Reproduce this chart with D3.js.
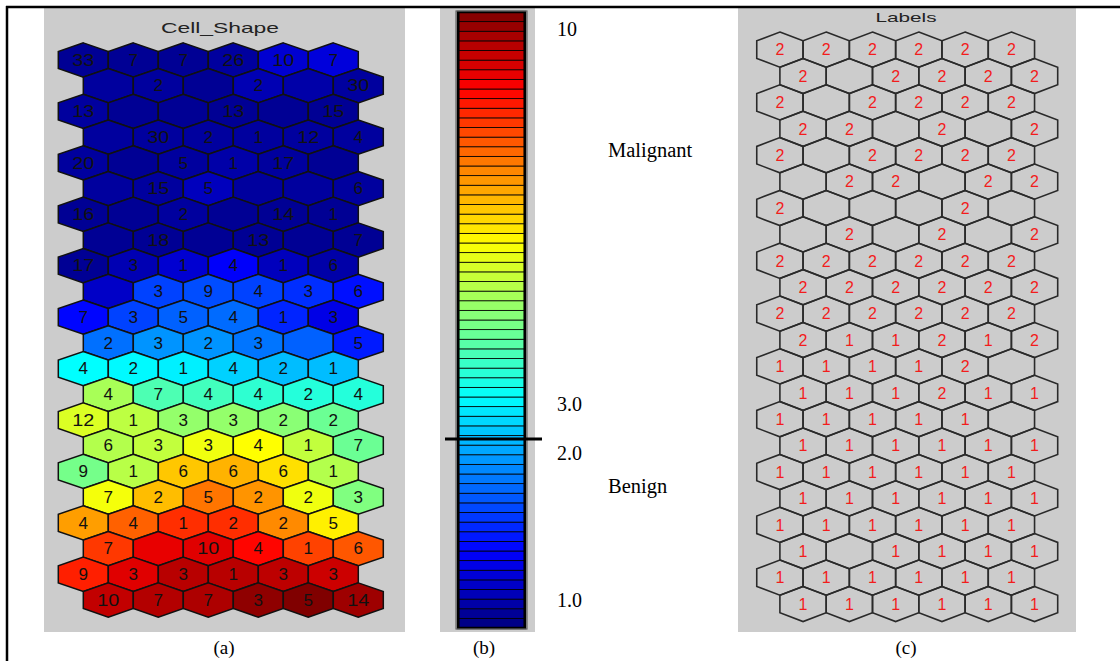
<!DOCTYPE html>
<html><head><meta charset="utf-8">
<script src="https://cdn.jsdelivr.net/npm/d3@7"></script>
<style>html,body{margin:0;padding:0;background:#fff;}svg{display:block;}</style>
</head><body>
<svg id="chart" width="1120" height="661"></svg>
<script>
// ---------- DATA ----------
// Panel (a) "Cell_Shape": colour level of each SOM unit (0..1 position in the jet colormap), 22 rows x 6 columns
const shapeLevels = [
  [0.02,0.02,0.02,0.03,0.08,0.09],
  [0.03,0.03,0.02,0.05,0.04,0.03],
  [0.03,0.02,0.02,0.02,0.02,0.02],
  [0.03,0.03,0.03,0.03,0.03,0.03],
  [0.03,0.02,0.03,0.04,0.03,0.02],
  [0.03,0.03,0.06,0.03,0.03,0.03],
  [0.02,0.02,0.03,0.02,0.02,0.02],
  [0.02,0.02,0.02,0.02,0.02,0.02],
  [0.02,0.05,0.08,0.12,0.06,0.04],
  [0.07,0.19,0.20,0.19,0.17,0.14],
  [0.13,0.19,0.22,0.23,0.16,0.10],
  [0.235,0.27,0.27,0.24,0.22,0.15],
  [0.375,0.37,0.36,0.33,0.31,0.31],
  [0.54,0.45,0.44,0.42,0.41,0.41],
  [0.59,0.56,0.52,0.52,0.51,0.48],
  [0.55,0.565,0.61,0.625,0.565,0.48],
  [0.49,0.555,0.68,0.70,0.655,0.55],
  [0.615,0.69,0.76,0.73,0.61,0.50],
  [0.72,0.78,0.83,0.83,0.74,0.64],
  [0.82,0.8975,0.905,0.87,0.81,0.79],
  [0.845,0.905,0.945,0.945,0.94,0.925],
  [0.935,0.95,0.955,0.985,1.0,0.97]
];
// Panel (a): hit counts shown in each unit ("" = none)
const shapeHits = [
  ["33","7","7","26","10","7"],
  ["","2","","2","","30"],
  ["13","","","13","","15"],
  ["","30","2","1","12","4"],
  ["20","","5","1","17",""],
  ["","15","5","","","6"],
  ["16","","2","","14","1"],
  ["","18","","13","","7"],
  ["17","3","1","4","1","6"],
  ["","3","9","4","3","6"],
  ["7","3","5","4","1","3"],
  ["2","3","2","3","","5"],
  ["4","2","1","4","2","1"],
  ["4","7","4","4","2","4"],
  ["12","1","3","3","2","2"],
  ["6","3","3","4","1","7"],
  ["9","1","6","6","6","1"],
  ["7","2","5","2","2","3"],
  ["4","4","1","2","2","5"],
  ["7","","10","4","1","6"],
  ["9","3","3","1","3","3"],
  ["10","7","7","3","5","14"]
];
// Panel (c) "Labels": class label of each unit (1 = benign, 2 = malignant, "" = empty)
const classLabels = [
  ["2","2","2","2","2","2"],
  ["2","","2","2","2","2"],
  ["2","","2","2","2","2"],
  ["2","2","","2","","2"],
  ["2","","2","2","2","2"],
  ["","2","2","","2","2"],
  ["2","","","","2",""],
  ["","2","","2","","2"],
  ["2","2","2","2","2","2"],
  ["2","2","2","2","2","2"],
  ["2","2","2","2","2","2"],
  ["2","1","1","2","1","2"],
  ["1","1","1","1","2",""],
  ["1","1","1","2","1","1"],
  ["1","1","1","1","1",""],
  ["1","1","1","1","1","1"],
  ["1","1","1","1","1","1"],
  ["1","1","1","1","1","1"],
  ["1","1","1","1","1","1"],
  ["1","","1","1","1","1"],
  ["1","1","1","1","1","1"],
  ["1","1","1","1","1","1"]
];
// Panel (b) colour bar
const colorBands = 64;
const barTickLabels = ["10","3.0","2.0","1.0"];
const barTickLevels = [0.972, 0.364, 0.284, 0.045];
const thresholdLevel = 0.307;
const classNames = ["Malignant","Benign"];
const classNameLevels = [0.776, 0.2305];
const titles = ["Cell_Shape","Labels"];
const captions = ["(a)","(b)","(c)"];

// ---------- HELPERS ----------
function jet(t){
  const c = v => Math.max(0, Math.min(1, v));
  const r = c(1.5 - Math.abs(4*t - 3)), g = c(1.5 - Math.abs(4*t - 2)), b = c(1.5 - Math.abs(4*t - 1));
  return d3.rgb(r*255, g*255, b*255).formatHex();
}
function hexPath(w, h){
  const pts = [[0,-h/2],[w/2,-h/4],[w/2,h/4],[0,h/2],[-w/2,h/4],[-w/2,-h/4]];
  return d3.line()(pts) + "Z";
}
function cellsOf(grid){
  const out = [];
  grid.forEach((row, r) => row.forEach((v, c) => out.push({r, c, v})));
  return out;
}

const svg = d3.select("#chart");
const nRows = shapeLevels.length;

// ---------- PANEL (a) ----------
svg.append("rect").attr("x",44).attr("y",8).attr("width",361).attr("height",624).attr("fill","#cccccc");
const xa = d3.scaleLinear().domain([0,1]).range([83.3,133.3]);
const ya = d3.scaleLinear().domain([0,nRows-1]).range([60,600]);
const wa = xa(1)-xa(0), ha = (ya(1)-ya(0))*4/3;
const pathA = hexPath(wa, ha);
const ga = svg.append("g");
const aCells = cellsOf(shapeLevels).map(d => ({...d, hit: shapeHits[d.r][d.c]}));
const gaCell = ga.selectAll("g").data(aCells).join("g")
  .attr("transform", d => `translate(${xa(d.c + 0.5*(d.r%2))},${ya(d.r)})`);
gaCell.append("path").attr("d", pathA).attr("fill", d => jet(d.v))
  .attr("stroke","#111").attr("stroke-width",1.5).attr("stroke-linejoin","miter");
gaCell.filter(d => d.hit !== "").append("text")
  .attr("text-anchor","middle").attr("dy","0.36em")
  .attr("font-family","Liberation Sans, Arial, sans-serif").attr("font-size",16)
  .attr("fill","#111")
  .attr("textLength", d => d.hit.length*9.5 + (d.hit.length-1)*3)
  .attr("lengthAdjust","spacingAndGlyphs")
  .text(d => d.hit);
svg.append("text").attr("x",220).attr("y",33).attr("text-anchor","middle")
  .attr("font-family","Liberation Sans, Arial, sans-serif").attr("font-size",15)
  .attr("fill","#222").attr("textLength",118).attr("lengthAdjust","spacingAndGlyphs")
  .text(titles[0]);

// ---------- PANEL (b) ----------
svg.append("rect").attr("x",440).attr("y",8).attr("width",95).attr("height",624).attr("fill","#cccccc");
const yb = d3.scaleLinear().domain([0,1]).range([628,12]);
const bandH = (yb(0)-yb(1))/colorBands;
const bands = d3.range(colorBands);
svg.append("g").selectAll("rect").data(bands).join("rect")
  .attr("x",459).attr("width",65)
  .attr("y", i => yb((i+1)/colorBands)).attr("height", bandH)
  .attr("fill", i => jet((i+0.5)/colorBands))
  .attr("stroke","#000").attr("stroke-width",0.8);
svg.append("rect").attr("x",458).attr("y",yb(1)).attr("width",67).attr("height",yb(0)-yb(1))
  .attr("fill","none").attr("stroke","#000").attr("stroke-width",2.5);
svg.append("rect").attr("x",456).attr("y",yb(1)-1).attr("width",71).attr("height",yb(0)-yb(1)+2)
  .attr("fill","none").attr("stroke","#666").attr("stroke-width",1.2);
svg.append("line").attr("x1",445).attr("x2",542).attr("y1",yb(thresholdLevel)).attr("y2",yb(thresholdLevel))
  .attr("stroke","#000").attr("stroke-width",3);
svg.append("g").selectAll("text").data(barTickLabels).join("text")
  .attr("x",557).attr("y",(d,i) => yb(barTickLevels[i])).attr("dy","0.35em")
  .attr("font-family","Liberation Serif, Times New Roman, serif").attr("font-size",20)
  .attr("fill","#000").text(d => d);
svg.append("g").selectAll("text").data(classNames).join("text")
  .attr("x",608).attr("y",(d,i) => yb(classNameLevels[i])).attr("dy","0.35em")
  .attr("font-family","Liberation Serif, Times New Roman, serif").attr("font-size",20.5)
  .attr("fill","#000").text(d => d);

// ---------- PANEL (c) ----------
svg.append("rect").attr("x",738).attr("y",8).attr("width",338).attr("height",624).attr("fill","#cccccc");
const xc = d3.scaleLinear().domain([0,1]).range([779.9,826.2]);
const yc = d3.scaleLinear().domain([0,nRows-1]).range([49.6,604]);
const wc = xc(1)-xc(0), hc = (yc(1)-yc(0))*4/3;
const pathC = hexPath(wc, hc);
const gcCell = svg.append("g").selectAll("g").data(cellsOf(classLabels)).join("g")
  .attr("transform", d => `translate(${xc(d.c + 0.5*(d.r%2))},${yc(d.r)})`);
gcCell.append("path").attr("d", pathC).attr("fill","none")
  .attr("stroke","#2a2a2a").attr("stroke-width",1.6);
gcCell.filter(d => d.v !== "").append("text")
  .attr("text-anchor","middle").attr("dy","0.36em")
  .attr("font-family","Liberation Sans, Arial, sans-serif").attr("font-size",16)
  .attr("fill","#f21c1c").text(d => d.v);
svg.append("text").attr("x",906).attr("y",22).attr("text-anchor","middle")
  .attr("font-family","Liberation Sans, Arial, sans-serif").attr("font-size",13)
  .attr("fill","#222").attr("textLength",61).attr("lengthAdjust","spacingAndGlyphs")
  .text(titles[1]);

// ---------- CAPTIONS & FRAME ----------
const capX = [224, 484, 906];
svg.append("g").selectAll("text").data(captions).join("text")
  .attr("x",(d,i) => capX[i]).attr("y",654).attr("text-anchor","middle")
  .attr("font-family","Liberation Serif, Times New Roman, serif").attr("font-size",19)
  .attr("fill","#000").text(d => d);
svg.append("line").attr("x1",6).attr("x2",1120).attr("y1",7).attr("y2",7).attr("stroke","#000").attr("stroke-width",2.5);
svg.append("line").attr("x1",7).attr("x2",7).attr("y1",6).attr("y2",661).attr("stroke","#000").attr("stroke-width",2.5);
</script>
</body></html>
